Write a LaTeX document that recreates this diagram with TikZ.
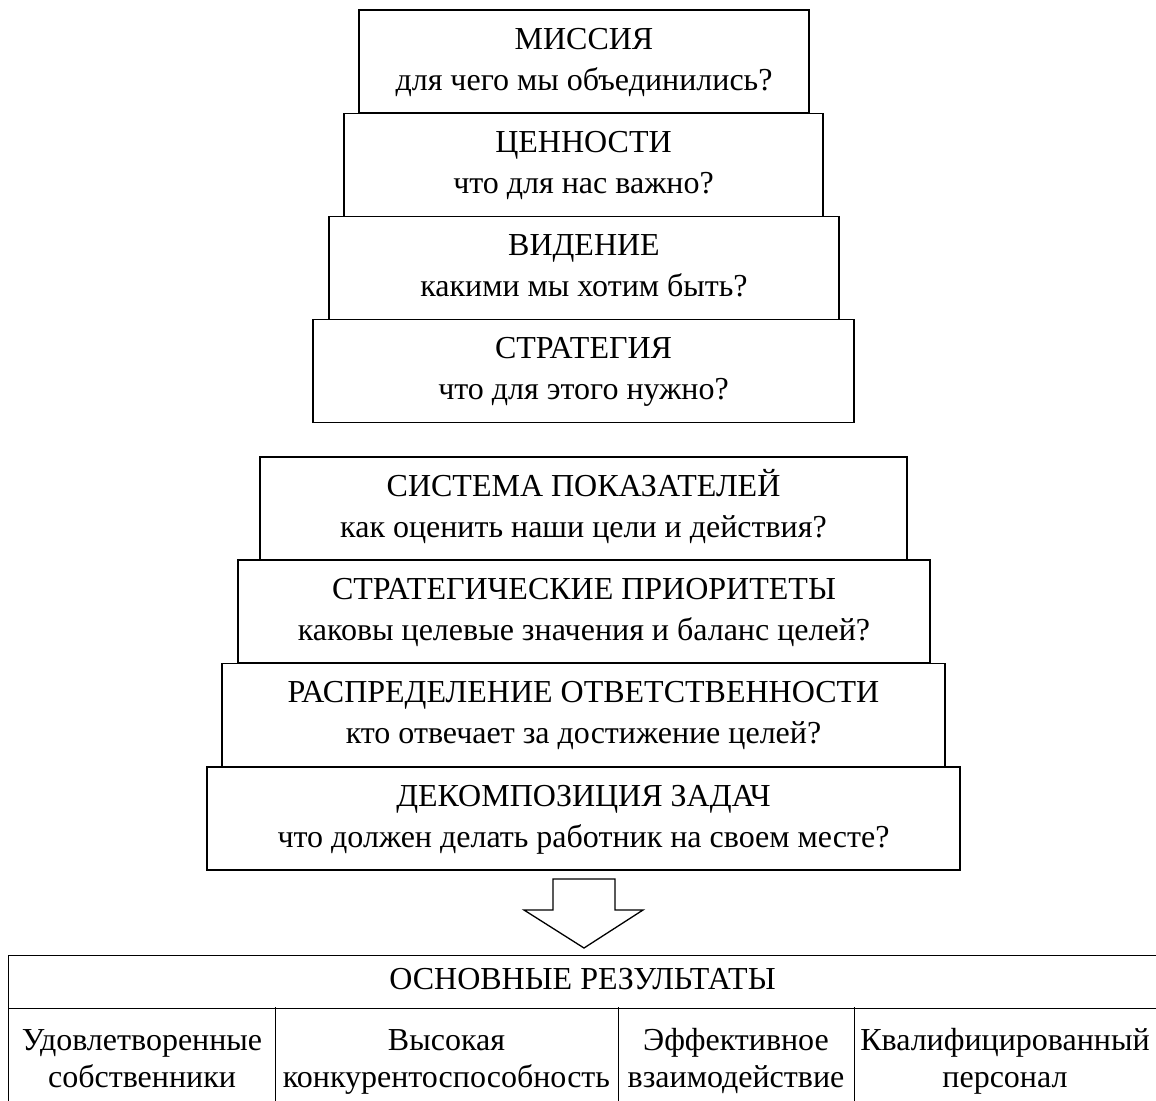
\documentclass[tikz,border=0pt]{standalone}
\usepackage{fontspec}
\setmainfont{Liberation Serif}
\begin{document}
\begin{tikzpicture}[x=1pt,y=-1pt, line width=1.3pt,
  lvl/.style={draw=black, rectangle, inner sep=0pt, align=center, minimum height=103pt, font=\fontsize{32}{41}\selectfont},
  txt/.style={rectangle, inner sep=0pt, align=center, font=\fontsize{32}{37}\selectfont},
  bigarrow/.style={draw=black, fill=white, line width=1.3pt, line join=miter}]
\useasboundingbox (0,0) rectangle (1156,1100);
\node[lvl, minimum width=450pt] (b1) at (584,61.5) {\strut МИССИЯ\\\strut для чего мы объединились?};
\node[lvl, minimum width=479pt] (b2) at (583.5,165) {\strut ЦЕННОСТИ\\\strut что для нас важно?};
\node[lvl, minimum width=510pt] (b3) at (584,268) {\strut ВИДЕНИЕ\\\strut какими мы хотим быть?};
\node[lvl, minimum width=541pt] (b4) at (583.5,371) {\strut СТРАТЕГИЯ\\\strut что для этого нужно?};
\node[lvl, minimum width=647pt] (b5) at (583.5,508.5) {\strut СИСТЕМА ПОКАЗАТЕЛЕЙ\\\strut как оценить наши цели и действия?};
\node[lvl, minimum width=692pt] (b6) at (584,611.5) {\strut СТРАТЕГИЧЕСКИЕ ПРИОРИТЕТЫ\\\strut каковы целевые значения и баланс целей?};
\node[lvl, minimum width=723pt] (b7) at (583.5,715) {\strut РАСПРЕДЕЛЕНИЕ ОТВЕТСТВЕННОСТИ\\\strut кто отвечает за достижение целей?};
\node[lvl, minimum width=753pt] (b8) at (583.5,818.5) {\strut ДЕКОМПОЗИЦИЯ ЗАДАЧ\\\strut что должен делать работник на своем месте?};
% arrow
\draw[bigarrow] (553,879) -- (615,879) -- (615,910) -- (643,910) -- (584,948) -- (524,910) -- (553,910) -- cycle;
% table
\node[txt, minimum width=1147pt, minimum height=52pt] (hdr) at (582.5,982) {\strut ОСНОВНЫЕ РЕЗУЛЬТАТЫ};
\node[txt, minimum width=266pt, minimum height=92pt] (c1) at (142,1054) {};
\node[txt, minimum width=343pt, minimum height=92pt] (c2) at (446.5,1054) {};
\node[txt, minimum width=236pt, minimum height=92pt] (c3) at (736,1054) {};
\node[txt, minimum width=302pt, minimum height=92pt] (c4) at (1005,1054) {};
\node[txt] (t1) at ([yshift=-8pt]c1.center) {\strut Удовлетворенные\\\strut собственники};
\node[txt] (t2) at ([yshift=-8pt]c2.center) {\strut Высокая\\\strut конкурентоспособность};
\node[txt] (t3) at ([yshift=-8pt]c3.center) {\strut Эффективное\\\strut взаимодействие};
\node[txt] (t4) at ([yshift=-8pt]c4.center) {\strut Квалифицированный\\\strut персонал};
\draw (c1.south west) -- (hdr.north west) -- (hdr.north east);
\draw (hdr.south west) -- (hdr.south east);
\draw (c1.north east) -- (c1.south east);
\draw (c2.north east) -- (c2.south east);
\draw (c3.north east) -- (c3.south east);
\end{tikzpicture}
\end{document}
